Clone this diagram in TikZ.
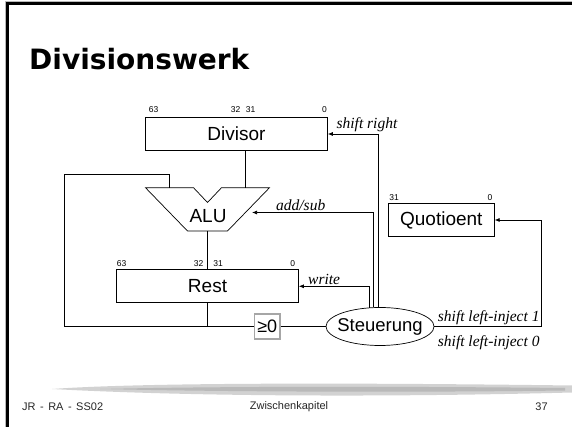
\documentclass[tikz,border=0pt]{standalone}
\usepackage{fontspec}
\setmainfont{Liberation Sans}
\newfontfamily\titlefont{DejaVu Sans}
\newfontfamily\sigfont{Liberation Serif}
\usetikzlibrary{shapes.geometric,arrows.meta,positioning}

\tikzset{
	reg/.style={draw,line width=0.7pt,minimum width=182pt,minimum height=33pt,inner sep=0pt,font=\fontsize{19}{20}\selectfont},
	bit/.style={anchor=south,inner sep=0pt,font=\fontsize{8.5}{9}\selectfont},
	sig/.style={font=\sigfont\itshape\fontsize{15.5}{16}\selectfont,inner sep=1.5pt},
	wire/.style={line width=0.7pt},
	ctl/.style={wire,-{Latex[length=5pt,width=4pt]}},
	foot/.style={inner sep=0pt,text=black!85,font=\fontsize{11}{12}\selectfont}
}

\begin{document}
\begin{tikzpicture}[x=1pt,y=1pt]
	\useasboundingbox (0,0) rectangle (572,427);
	% slide frame and title
	\draw[gray!55,line width=1.2pt] (5.8,0) -- (5.8,425.2) -- (572,425.2);
	\draw[line width=2.2pt] (7.5,0) -- (7.5,423.5) -- (572,423.5);
	\node[anchor=base west,inner sep=0pt,font=\titlefont\bfseries\fontsize{28}{30}\selectfont] (title) at (29,357) {Divisionswerk};

	% registers, ALU, control
	\node[reg] (Divisor) at (236.5,293) {Divisor};
	\node[reg] (Rest) at (207.5,140.7) {Rest};
	\node[reg,minimum width=106pt] (Quotient) at (441.3,207) {Quotioent};
	\node[draw,ellipse,wire,minimum width=108pt,minimum height=38pt,inner xsep=-6pt,inner ysep=0pt,font=\fontsize{18.5}{19}\selectfont] (Steuerung) at (380,100.5) {Steuerung};
	\node[draw=gray!70,line width=1.2pt,minimum width=25.5pt,minimum height=25pt,inner sep=0pt,font=\fontsize{18}{19}\selectfont] (ge0) at (267.2,100.5) {≥0};

	\foreach \lab/\dx in {63/-83pt,32/-1pt,31/14pt,0/88pt}
		\node[bit] (Divisor-\lab) at ([xshift=\dx,yshift=4pt]Divisor.north) {\lab};
	\foreach \lab/\dx in {63/-86pt,32/-9pt,31/10.5pt,0/85.3pt}
		\node[bit] (Rest-\lab) at ([xshift=\dx,yshift=2.5pt]Rest.north) {\lab};
	\foreach \lab/\dx in {31/-47.3pt,0/48.7pt}
		\node[bit] (Quotient-\lab) at ([xshift=\dx,yshift=2.5pt]Quotient.north) {\lab};

	\coordinate (alu-a) at (169.5,239.3);
	\coordinate (alu-b) at (245.5,239.3);
	\coordinate (alu-out) at (207.5,196);
	\coordinate (alu-ctl) at (252,214.5);
	\draw[wire] (145.5,239.3) -- (193.5,239.3) -- (207.5,224.5) -- (221.5,239.3) -- (269.5,239.3) -- (227.5,196) -- (187.5,196) -- cycle;
	\node[font=\fontsize{19}{20}\selectfont] (ALU) at (208,210.5) {ALU};

	% data paths
	\coordinate (loop) at (64,253);
	\draw[wire] (Divisor.south -| alu-b) -- (alu-b);
	\draw[wire] (alu-out) -- (Rest.north);
	\draw[wire] (Rest.south) -- (Rest.south |- ge0.west);
	\draw[wire] (ge0.west) -| (loop) -| (alu-a);
	\draw[wire] (ge0) -- (Steuerung);

	% control signals
	\draw[ctl] (Steuerung.94) |- node[sig,pos=0.615,above]{shift right} (Divisor.east);
	\draw[ctl] (Steuerung.108) |- node[sig,pos=0.8,above]{add/sub} (alu-ctl);
	\draw[ctl] (Steuerung.120) |- node[sig,pos=0.82,above]{write} (Rest.east);
	\draw[ctl] (Steuerung.east) -- node[sig,pos=1,above left]{shift left-inject 1} node[sig,pos=1,below left,yshift=-7pt]{shift left-inject 0} ++(107,0) |- (Quotient.east);

	% footer
	\fill[gray!35] (52,38) .. controls (150,45) and (380,44) .. (572,41.5) -- (572,34.5) .. controls (400,30) and (200,30) .. (52,38) -- cycle;
	\fill[gray!55] (100,38) .. controls (230,41) and (420,40.5) .. (565,39) -- (565,36.5) .. controls (420,34.5) and (230,35) .. (100,38) -- cycle;
	\node[foot,anchor=west] (author) at (22,20.5) {JR\hspace{4.5pt}-\hspace{4.5pt}RA\hspace{4.5pt}-\hspace{4.5pt}SS02};
	\node[foot] (chapter) at (289,20.5) {Zwischenkapitel};
	\node[foot] (page) at (541.5,20.5) {37};
\end{tikzpicture}
\end{document}
